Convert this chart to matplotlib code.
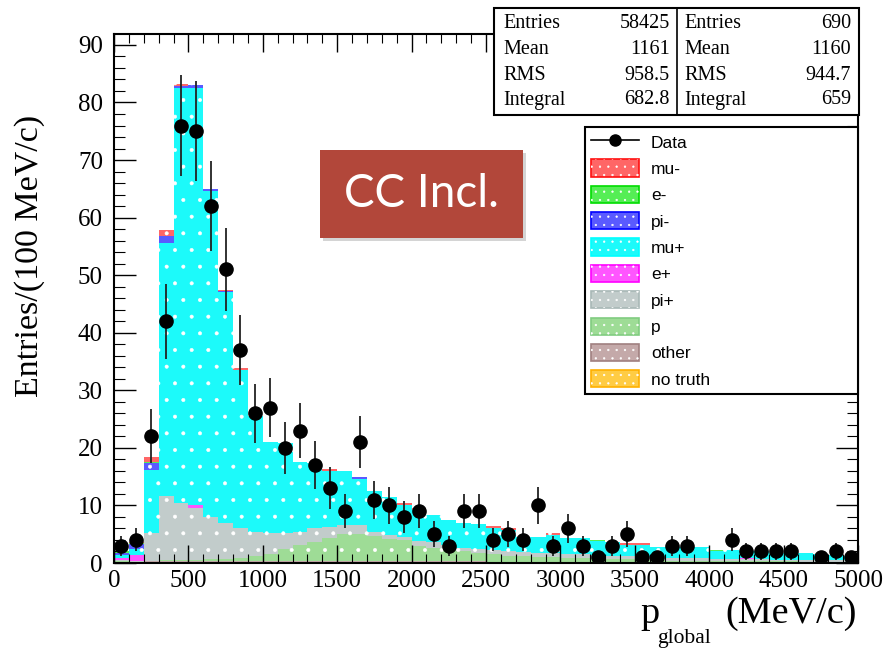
import matplotlib.pyplot as plt
import numpy as np
from matplotlib.patches import Patch, Rectangle
from matplotlib.lines import Line2D
from matplotlib.legend_handler import HandlerTuple
from matplotlib.ticker import MultipleLocator

plt.rcParams['font.family'] = ['Liberation Serif', 'DejaVu Serif']
plt.rcParams['hatch.linewidth'] = 0.4

# 100 MeV/c bins from 0 to 5000
bin_edges = np.arange(0, 5001, 100)

data_counts = [3, 4, 22, 42, 76, 75, 62, 51, 37, 26,
               27, 20, 23, 17, 13, 9, 21, 11, 10, 8,
               9, 5, 3, 9, 9, 4, 5, 4, 10, 3,
               6, 3, 1, 3, 5, 1, 1, 3, 3, 0,
               0, 4, 2, 2, 2, 2, 0, 1, 2, 1]

mu_minus = [0, 0.3, 0.9, 1.0, 0.4, 0, 0, 0.3, 0.4, 0,
            0, 0, 0, 0, 0.4, 0, 0, 0, 0, 0.4,
            0.4, 0, 0, 0, 0, 0.3, 0.3, 0, 0, 0.4,
            0, 0, 0, 0, 0.3, 0.3, 0, 0, 0, 0,
            0, 0, 0, 0, 0, 0, 0, 0, 0, 0]
e_minus = [0.2, 0.1, 0.1, 0, 0, 0, 0, 0, 0, 0,
           0, 0, 0, 0, 0, 0, 0, 0, 0, 0,
           0, 0, 0, 0, 0, 0, 0, 0, 0, 0,
           0, 0, 0.2, 0, 0, 0, 0, 0, 0, 0,
           0.2, 0, 0, 0, 0, 0, 0, 0, 0, 0]
pi_minus = [0.4, 0.9, 1.3, 1.2, 0.2, 0.5, 0.3, 0.2, 0, 0,
            0, 0, 0, 0, 0, 0, 0.4, 0, 0, 0,
            0, 0, 0, 0, 0, 0, 0, 0, 0, 0,
            0, 0, 0, 0, 0, 0, 0, 0, 0, 0,
            0, 0, 0, 0, 0, 0, 0, 0, 0, 0]
mu_plus = [0.5, 1.0, 10.9, 44.0, 72.1, 72.6, 56.6, 40.1, 27.5, 20.1,
           15.8, 15.6, 12.3, 11.3, 9.6, 9.4, 8.0, 7.1, 6.7, 5.4,
           5.4, 4.8, 4.3, 4.4, 4.3, 3.8, 3.6, 2.7, 2.8, 3.1,
           2.7, 2.8, 2.4, 2.4, 1.9, 2.0, 1.8, 1.9, 1.9, 2.0,
           1.3, 1.5, 1.2, 1.4, 1.2, 1.2, 1.2, 1.0, 0.9, 0.8]
e_plus = [0.3, 1.0, 0, 0, 0.1, 0.4, 0, 0, 0, 0,
          0, 0, 0, 0, 0, 0, 0, 0, 0, 0,
          0, 0, 0, 0, 0, 0, 0, 0, 0, 0,
          0, 0, 0, 0, 0, 0, 0, 0, 0, 0,
          0, 0, 0.2, 0, 0, 0, 0, 0, 0, 0]
pi_plus = [0.2, 0.2, 4.8, 11.0, 9.8, 9.0, 7.3, 6.2, 5.2, 4.2,
           3.6, 2.8, 2.2, 2.3, 1.9, 1.6, 1.6, 0.7, 0.6, 0.6,
           0.9, 1.0, 0.8, 0.6, 0.7, 0.8, 0.8, 0.7, 0.7, 0.7,
           0.7, 0.7, 0.6, 0.6, 0.5, 0.5, 0.5, 0.5, 0.5, 0.4,
           0.3, 0.4, 0.4, 0.4, 0.3, 0.3, 0.3, 0.3, 0.3, 0.3]
proton = [0.3, 0.1, 0.1, 0.2, 0.2, 0.2, 0.3, 0.3, 0.4, 0.8,
          1.2, 2.0, 2.7, 3.3, 4.0, 4.6, 4.6, 4.3, 3.9, 3.7,
          2.6, 2.3, 2.0, 1.7, 1.5, 1.3, 1.1, 1.0, 0.9, 0.8,
          0.7, 0.6, 0.6, 0.5, 0.5, 0.4, 0.4, 0.3, 0.3, 0.3,
          0.3, 0.2, 0.2, 0.2, 0.2, 0.2, 0.1, 0.1, 0.1, 0.1]
other = [0.1, 0.1, 0.3, 0.4, 0.4, 0.4, 0.4, 0.4, 0.4, 0.4,
         0.4, 0.4, 0.4, 0.4, 0.4, 0.4, 0.4, 0.4, 0.3, 0.3,
         0.3, 0.3, 0.3, 0.3, 0.3, 0.2, 0.2, 0.2, 0.2, 0.2,
         0.2, 0.2, 0.2, 0.2, 0.2, 0.2, 0.1, 0.1, 0.1, 0.1,
         0.1, 0.1, 0.1, 0.1, 0.1, 0.1, 0.1, 0.1, 0.1, 0.1]
no_truth = [0.0] * 50

stat_labels = ["Entries", "Mean", "RMS", "Integral"]
mc_stats = ["58425", "1161", "958.5", "682.8"]
data_stats = ["690", "1160", "944.7", "659"]

# legend order; the stack is drawn in reverse (last entry at the bottom)
species = [
    ("mu-", mu_minus, '#ff6666', '#ff1010'),
    ("e-", e_minus, '#55ee55', '#00dd00'),
    ("pi-", pi_minus, '#5a5aff', '#0000ff'),
    ("mu+", mu_plus, '#1cfafa', '#00ffff'),
    ("e+", e_plus, '#ff55ff', '#ff00ff'),
    ("pi+", pi_plus, '#c2cccb', '#a8b8b6'),
    ("p", proton, '#9edc96', '#80cc80'),
    ("other", other, '#c4a9a9', '#a08080'),
    ("no truth", no_truth, '#ffcc44', '#ffb000'),
]

fig = plt.figure(figsize=(8.86, 6.48), dpi=100)
ax = fig.add_axes([114/886, 85/648, 744/886, 529/648])

bottom = np.zeros(len(bin_edges) - 1)
for label, vals, fc, ec in reversed(species):
    top = bottom + np.array(vals)
    ax.stairs(top, bin_edges, baseline=bottom, fill=True, facecolor=fc,
              edgecolor='white', hatch='.', linewidth=0)
    bottom = top

counts = np.array(data_counts, dtype=float)
centres = bin_edges[:-1] + 50
keep = counts > 0
ax.errorbar(centres[keep], counts[keep], yerr=np.sqrt(counts[keep]), fmt='o',
            color='black', ecolor='#222222', ms=9.5, elinewidth=1.3, capsize=0, zorder=5)

ax.set_xlim(0, 5000)
ax.set_ylim(0, 91.9)
ax.xaxis.set_major_locator(MultipleLocator(500))
ax.xaxis.set_minor_locator(MultipleLocator(100))
ax.yaxis.set_major_locator(MultipleLocator(10))
ax.yaxis.set_minor_locator(MultipleLocator(2))
ax.tick_params(which='both', direction='in', top=True, right=True, labelsize=18)
ax.tick_params(axis='x', which='major', length=13, width=1.0, pad=5)
ax.tick_params(axis='x', which='minor', length=6.5, width=0.8)
ax.tick_params(axis='y', which='major', length=16, width=1.0, pad=8)
ax.tick_params(axis='y', which='minor', length=8, width=0.8)
for sp in ax.spines.values():
    sp.set_linewidth(1.5)

handles = [Line2D([], [], color='black', marker='o', ms=8, lw=1.2)]
labels = ["Data"]
for label, vals, fc, ec in species:
    handles.append((Patch(facecolor=fc, edgecolor=ec, lw=1.2),
                    Patch(facecolor='none', edgecolor='white', hatch='..', lw=0)))
    labels.append(label)
leg = ax.legend(handles, labels, handler_map={tuple: HandlerTuple(ndivide=1, pad=0)},
                loc='upper left', bbox_to_anchor=(585/886, 1 - 127/648, 273/886, 0),
                bbox_transform=fig.transFigure, mode='expand', borderaxespad=0,
                fancybox=False, edgecolor='black', framealpha=1,
                prop={'family': 'Liberation Sans', 'size': 12.5},
                handlelength=2.75, handleheight=1.15, labelspacing=0.51,
                handletextpad=0.7, borderpad=0.35)
leg.get_frame().set_linewidth(1.5)

# overlay in pixel coordinates for boxes and titles
ov = fig.add_axes([0, 0, 1, 1], zorder=10)
ov.set_xlim(0, 886)
ov.set_ylim(648, 0)
ov.axis('off')

ov.add_patch(Rectangle((494, 8), 365, 107, facecolor='white', edgecolor='black', lw=1.5))
ov.plot([677, 677], [8, 115], color='black', lw=1.2)
row_y = [24, 49, 75, 100]
for i, lab in enumerate(stat_labels):
    ov.text(503, row_y[i], lab, ha='left', va='center', size=14.5)
    ov.text(670, row_y[i], mc_stats[i], ha='right', va='center', size=14.5)
    ov.text(684, row_y[i], lab, ha='left', va='center', size=14.5)
    ov.text(851, row_y[i], data_stats[i], ha='right', va='center', size=14.5)

ov.add_patch(Rectangle((323, 153), 203, 88, facecolor='#d4d4d4', edgecolor='none'))
ov.add_patch(Rectangle((320, 150), 203, 88, facecolor='#b2473a', edgecolor='none'))
ov.text(421.5, 194, "CC Incl.", ha='center', va='center', color='white',
        size=33, family=['Lato', 'DejaVu Sans'])

ov.text(30, 115, "Entries/(100 MeV/c)", rotation=90, ha='center', va='top', size=24.5)
ov.text(640, 623, "p", ha='left', va='baseline', size=27.5)
ov.text(657, 643, "global", ha='left', va='baseline', size=15.5)
ov.text(857, 623, "(MeV/c)", ha='right', va='baseline', size=27.5)

fig.savefig('out.png', dpi=100)
